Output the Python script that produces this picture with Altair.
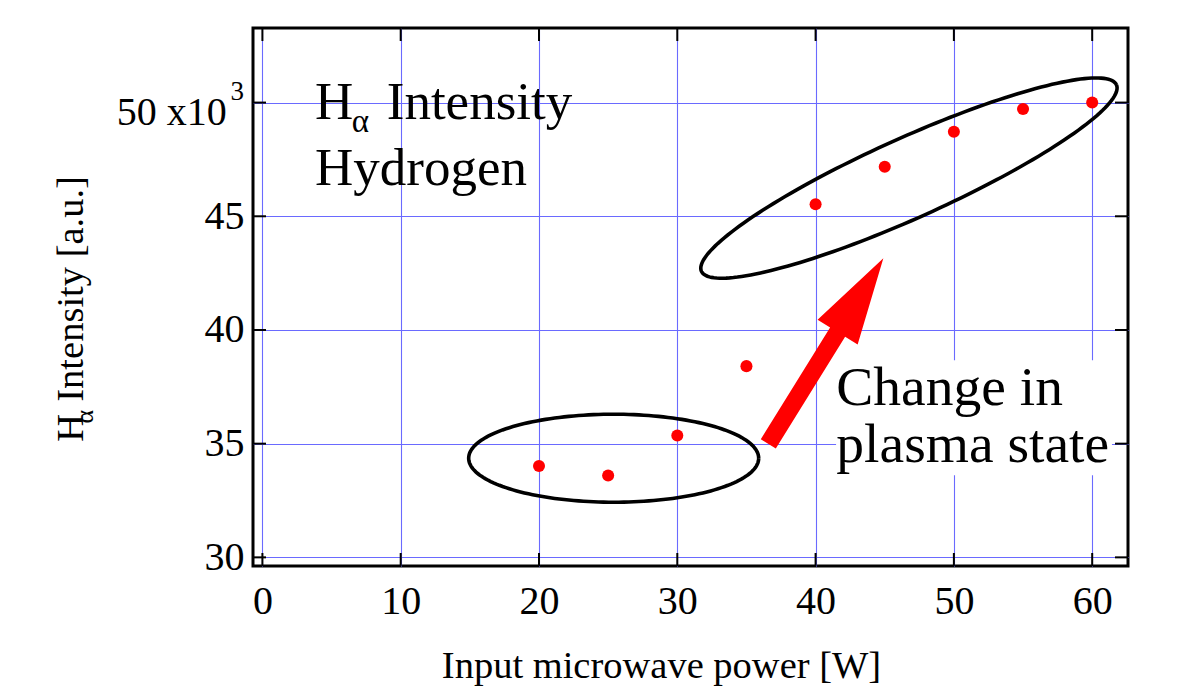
import altair as alt
import numpy as np
import pandas as pd

# ---------------- data ----------------
power = [20, 25, 30, 35, 40, 45, 50, 55, 60]
intensity = [34.02, 33.60, 35.36, 38.41, 45.53, 47.18, 48.72, 49.72, 50.00]  # x10^3

x_ticks = [0, 10, 20, 30, 40, 50, 60]
y_ticks = [30, 35, 40, 45, 50]
X_DOMAIN = [-0.68, 62.59]
Y_DOMAIN = [29.62, 53.28]

# annotation ellipses: centre (data units), semi-axes (px), rotation (deg)
ell_cx = [25.4, 46.75]
ell_cy = [34.36, 46.68]
ell_a = [145.0, 227.5]
ell_b = [44.0, 40.0]
ell_rot = [0.0, 24.2]

# arrow annotation: centre (data units)
arrow_x = [40.74]
arrow_y = [39.07]
ARROW_PATH = "M0,-1L0.216,-0.205L0.081,-0.205L0.081,1L-0.081,1L-0.081,-0.205L-0.216,-0.205Z"

# white background box behind "Change in plasma state"
box_x = [41.48]
box_x2 = [61.43]
box_y = [33.61]
box_y2 = [38.67]

W, H = 875, 538
PX_X = W / (X_DOMAIN[1] - X_DOMAIN[0])
PX_Y = H / (Y_DOMAIN[1] - Y_DOMAIN[0])
FONT = "Liberation Serif"
GRID = "#6a6aff"

xs = alt.Scale(domain=X_DOMAIN, nice=False, zero=False)
ys = alt.Scale(domain=Y_DOMAIN, nice=False, zero=False)

# ---------------- build tables ----------------
pts = pd.DataFrame({"power": power, "intensity": intensity})

rows = []
t = np.linspace(0, 2 * np.pi, 181)
for k in range(len(ell_cx)):
    th = np.deg2rad(ell_rot[k])
    px = ell_a[k] * np.cos(t) * np.cos(th) - ell_b[k] * np.sin(t) * np.sin(th)
    py = ell_a[k] * np.cos(t) * np.sin(th) + ell_b[k] * np.sin(t) * np.cos(th)
    for i in range(len(t)):
        rows.append({"e": k, "i": i, "x": ell_cx[k] + px[i] / PX_X, "y": ell_cy[k] + py[i] / PX_Y})
ell = pd.DataFrame(rows)

# ---------------- layers ----------------
x_axis = alt.Axis(
    values=x_ticks, grid=True, gridColor=GRID, gridWidth=1.1,
    ticks=False, domain=False,
    labelFont=FONT, labelFontSize=40, labelColor="black", labelPadding=47,
    labelBaseline="alphabetic", labelFlush=False, labelOverlap=False,
    title="Input microwave power [W]", titleFont=FONT, titleFontSize=38.5,
    titleFontWeight="normal", titleColor="black", titleX=408, titleY=111,
    titleBaseline="alphabetic", titleAlign="center",
)
y_axis = alt.Axis(
    values=y_ticks, grid=True, gridColor=GRID, gridWidth=1.1,
    ticks=False, domain=False,
    labelFont=FONT, labelFontSize=40, labelColor="black", labelPadding=9,
    labelAlign="right", labelBaseline="middle", labelFlush=False, labelOverlap=False,
    labelExpr="datum.value == 50 ? '' : datum.label",
    title=None,
)

points = alt.Chart(pts).mark_circle(color="#ff0000", size=145, opacity=1).encode(
    x=alt.X("power:Q", scale=xs, axis=x_axis),
    y=alt.Y("intensity:Q", scale=ys, axis=y_axis),
)

box = alt.Chart(pd.DataFrame({"x": box_x, "x2": box_x2, "y": box_y, "y2": box_y2})).mark_rect(
    color="white", opacity=1
).encode(
    x=alt.X("x:Q", scale=xs), x2="x2:Q",
    y=alt.Y("y:Q", scale=ys), y2="y2:Q",
)

ellipses = alt.Chart(ell).mark_line(color="black", strokeWidth=3.6).encode(
    x=alt.X("x:Q", scale=xs),
    y=alt.Y("y:Q", scale=ys),
    detail="e:N",
    order="i:Q",
)

arrow = alt.Chart(pd.DataFrame({"x": arrow_x, "y": arrow_y})).mark_point(
    shape=ARROW_PATH, filled=True, color="#ff0000", opacity=1, size=218.3 ** 2,
    angle=31.8, strokeWidth=0,
).encode(
    x=alt.X("x:Q", scale=xs),
    y=alt.Y("y:Q", scale=ys),
)

# inward ticks on all four sides
tx = pd.DataFrame({"v": x_ticks})
ty = pd.DataFrame({"v": y_ticks})
TL = 13
tick_b = alt.Chart(tx).mark_rule(color="black", strokeWidth=2).encode(
    x=alt.X("v:Q", scale=xs), y=alt.value(H), y2=alt.value(H - TL))
tick_t = alt.Chart(tx).mark_rule(color="black", strokeWidth=2).encode(
    x=alt.X("v:Q", scale=xs), y=alt.value(0), y2=alt.value(TL))
tick_l = alt.Chart(ty).mark_rule(color="black", strokeWidth=2).encode(
    y=alt.Y("v:Q", scale=ys), x=alt.value(0), x2=alt.value(TL))
tick_r = alt.Chart(ty).mark_rule(color="black", strokeWidth=2).encode(
    y=alt.Y("v:Q", scale=ys), x=alt.value(W), x2=alt.value(W - TL))


def txt(df, size):
    return alt.Chart(df).mark_text(
        font=FONT, fontSize=size, color="black", align="left", baseline="alphabetic"
    ).encode(
        x=alt.X("x:Q", scale=xs),
        y=alt.Y("y:Q", scale=ys),
        text="t:N",
    )


label_big = txt(pd.DataFrame({"x": [3.80, 8.99, 3.80], "y": [49.27, 49.27, 46.38],
                              "t": ["H", "Intensity", "Hydrogen"]}), 53)
label_sub = txt(pd.DataFrame({"x": [6.46], "y": [48.72], "t": ["α"]}), 33)
change = txt(pd.DataFrame({"x": [41.5, 41.5], "y": [36.69, 34.20],
                           "t": ["Change in", "plasma state"]}), 55.5)

one = pd.DataFrame({"a": [0]})


def ptxt(text, size, x, y, align="left", angle=0):
    kw = dict(font=FONT, fontSize=size, color="black", align=align,
              baseline="alphabetic", text=text)
    if angle:
        kw["angle"] = angle
    return alt.Chart(one).mark_text(**kw).encode(x=alt.value(x), y=alt.value(y))


# top y tick label with its exponent "x10^3"
lab50 = ptxt("50 x10", 40, -26.3, 97, align="right")
lab50_exp = ptxt("3", 27, -9, 72, align="right")

# y-axis title built from pieces (H with subscript alpha)
yt_h = ptxt("H", 38.5, -169.7, 413.7, angle=270)
yt_a = ptxt("α", 26, -160.5, 395.5, angle=270)
yt_rest = ptxt("Intensity [a.u.]", 38.5, -169.7, 373.7, angle=270)

chart = alt.layer(
    points, box, ellipses, arrow,
    tick_b, tick_t, tick_l, tick_r,
    label_big, label_sub, change, lab50, lab50_exp, yt_h, yt_a, yt_rest,
).properties(
    width=W, height=H,
    autosize=alt.AutoSizeParams(type="none"),
    padding={"left": 253, "top": 28, "right": 1182 - 253 - W, "bottom": 695 - 28 - H},
    background="white",
).configure(font=FONT).configure_view(
    stroke="black", strokeWidth=3,
)

chart.save("out.html", embed_options={"renderer": "svg", "actions": False})
